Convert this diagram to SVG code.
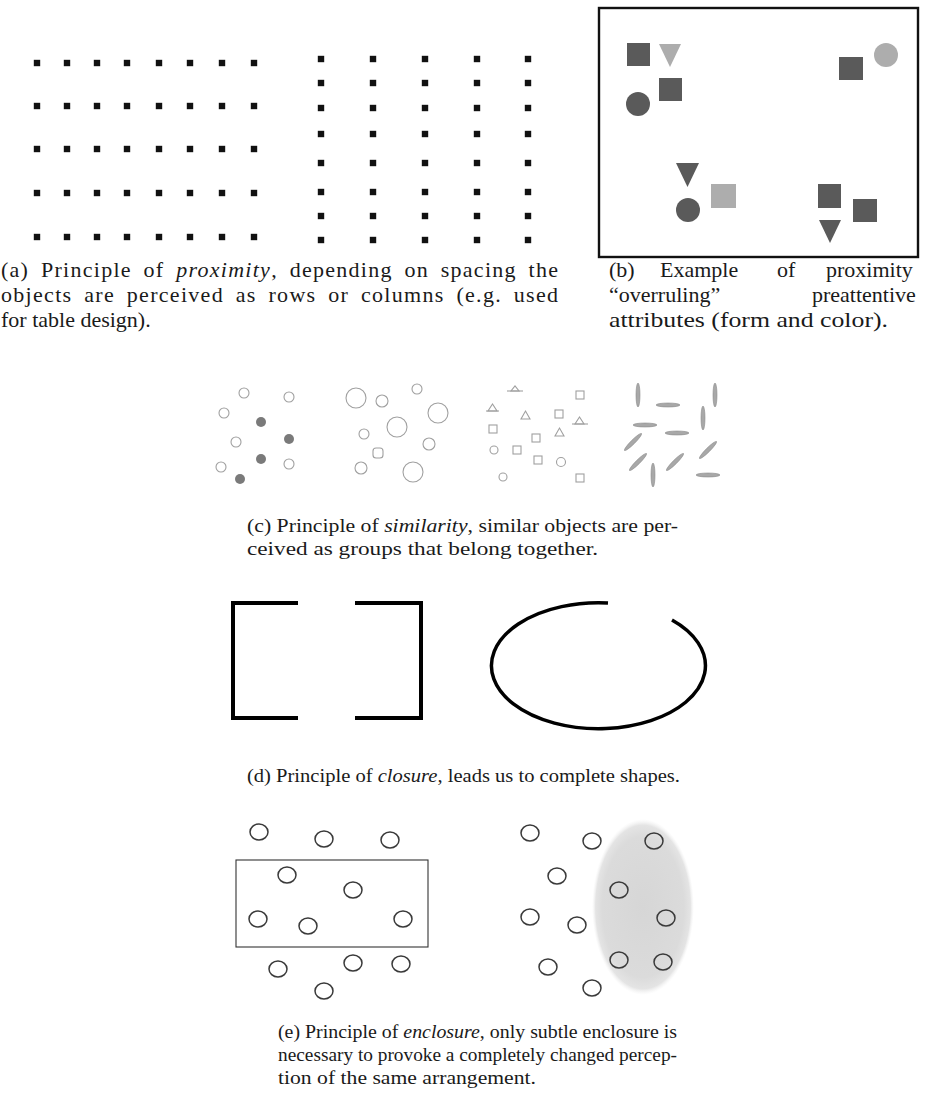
<svg xmlns="http://www.w3.org/2000/svg" width="927" height="1113" viewBox="0 0 927 1113">
<style>
.cap{font-family:"Liberation Serif","Times New Roman",serif;font-size:19px;fill:#1a1a1a}
.capl{font-family:"Liberation Serif","Times New Roman",serif;font-size:22px;fill:#1a1a1a}
.jus{word-spacing:5px}
.it{font-style:italic}
.dot{fill:#111}
.dk{fill:#5a5a5a}
.lt{fill:#adadad}
.oc{fill:none;stroke:#a0a0a0;stroke-width:1.1}
.fc{fill:#7a7a7a}
.el{fill:#a8a8a8;stroke:#8a8a8a;stroke-width:0.6}
.br{fill:none;stroke:#000;stroke-width:4;stroke-linecap:butt}
.ec{fill:none;stroke:#3a3a3a;stroke-width:1.5}
</style>
<defs>
<rect id="d" x="-3.2" y="-3.2" width="6.4" height="6.4" class="dot"/>
<ellipse id="rod" rx="12" ry="2" class="el"/>
<radialGradient id="gg" cx="0.5" cy="0.5" r="0.5">
<stop offset="0" stop-color="#d6d6d6"/>
<stop offset="0.8" stop-color="#dbdbdb"/>
<stop offset="0.93" stop-color="#e4e4e4"/>
<stop offset="1" stop-color="#f2f2f2" stop-opacity="0"/>
</radialGradient>
</defs>
<rect width="927" height="1113" fill="#fff"/>

<g id="panel-a-rows">
<g id="ra1" transform="translate(0,63)"><use href="#d" x="37"/><use href="#d" x="67"/><use href="#d" x="97"/><use href="#d" x="127"/><use href="#d" x="159"/><use href="#d" x="190"/><use href="#d" x="222"/><use href="#d" x="254"/></g>
<g id="ra2" transform="translate(0,106)"><use href="#d" x="37"/><use href="#d" x="67"/><use href="#d" x="97"/><use href="#d" x="127"/><use href="#d" x="159"/><use href="#d" x="190"/><use href="#d" x="222"/><use href="#d" x="254"/></g>
<g id="ra3" transform="translate(0,149)"><use href="#d" x="37"/><use href="#d" x="67"/><use href="#d" x="97"/><use href="#d" x="127"/><use href="#d" x="159"/><use href="#d" x="190"/><use href="#d" x="222"/><use href="#d" x="254"/></g>
<g id="ra4" transform="translate(0,193)"><use href="#d" x="37"/><use href="#d" x="67"/><use href="#d" x="97"/><use href="#d" x="127"/><use href="#d" x="159"/><use href="#d" x="190"/><use href="#d" x="222"/><use href="#d" x="254"/></g>
<g id="ra5" transform="translate(0,237)"><use href="#d" x="37"/><use href="#d" x="67"/><use href="#d" x="97"/><use href="#d" x="127"/><use href="#d" x="159"/><use href="#d" x="190"/><use href="#d" x="222"/><use href="#d" x="254"/></g>
</g>
<g id="panel-a-cols">
<g id="ca1" transform="translate(321,0)"><use href="#d" y="59"/><use href="#d" y="83"/><use href="#d" y="108"/><use href="#d" y="134"/><use href="#d" y="163"/><use href="#d" y="192"/><use href="#d" y="216"/><use href="#d" y="240"/></g>
<g id="ca2" transform="translate(373,0)"><use href="#d" y="59"/><use href="#d" y="83"/><use href="#d" y="108"/><use href="#d" y="134"/><use href="#d" y="163"/><use href="#d" y="192"/><use href="#d" y="216"/><use href="#d" y="240"/></g>
<g id="ca3" transform="translate(425,0)"><use href="#d" y="59"/><use href="#d" y="83"/><use href="#d" y="108"/><use href="#d" y="134"/><use href="#d" y="163"/><use href="#d" y="192"/><use href="#d" y="216"/><use href="#d" y="240"/></g>
<g id="ca4" transform="translate(477,0)"><use href="#d" y="59"/><use href="#d" y="83"/><use href="#d" y="108"/><use href="#d" y="134"/><use href="#d" y="163"/><use href="#d" y="192"/><use href="#d" y="216"/><use href="#d" y="240"/></g>
<g id="ca5" transform="translate(528,0)"><use href="#d" y="59"/><use href="#d" y="83"/><use href="#d" y="108"/><use href="#d" y="134"/><use href="#d" y="163"/><use href="#d" y="192"/><use href="#d" y="216"/><use href="#d" y="240"/></g>
</g>

<g id="panel-b">
<rect x="599" y="8" width="319" height="249" fill="none" stroke="#111" stroke-width="2.4"/>
<g id="b-group1">
<rect x="627" y="43" width="23" height="23" class="dk"/>
<polygon points="659,44 681,44 670,67" class="lt"/>
<rect x="659" y="78" width="23" height="23" class="dk"/>
<circle cx="638" cy="104" r="12" class="dk"/>
</g>
<g id="b-group2">
<rect x="839" y="57" width="24" height="23" class="dk"/>
<circle cx="886" cy="55" r="12" class="lt"/>
</g>
<g id="b-group3">
<polygon points="676,163 699,163 687.5,187" class="dk"/>
<circle cx="688" cy="210" r="12" class="dk"/>
<rect x="711" y="184" width="25" height="24" class="lt"/>
</g>
<g id="b-group4">
<rect x="818" y="184" width="23" height="24" class="dk"/>
<rect x="853" y="199" width="24" height="23" class="dk"/>
<polygon points="819,220 841,220 830,243" class="dk"/>
</g>
</g>

<g id="panel-c1">
<circle cx="244" cy="393" r="5" class="oc"/>
<circle cx="289" cy="397" r="5" class="oc"/>
<circle cx="224" cy="413" r="5" class="oc"/>
<circle cx="261" cy="422" r="5" class="fc"/>
<circle cx="289" cy="439" r="5" class="fc"/>
<circle cx="236" cy="442" r="5" class="oc"/>
<circle cx="261" cy="459" r="5" class="fc"/>
<circle cx="221" cy="467" r="5" class="oc"/>
<circle cx="289" cy="464" r="5" class="oc"/>
<circle cx="240" cy="479" r="5" class="fc"/>
</g>
<g id="panel-c2">
<circle cx="356" cy="398" r="10" class="oc"/>
<circle cx="382" cy="401" r="6" class="oc"/>
<circle cx="417" cy="389" r="5" class="oc"/>
<circle cx="438" cy="413" r="10" class="oc"/>
<circle cx="397" cy="427" r="10" class="oc"/>
<circle cx="364" cy="434" r="5" class="oc"/>
<circle cx="429" cy="444" r="6" class="oc"/>
<rect x="373" y="448" width="10" height="10" rx="3" class="oc"/>
<circle cx="361" cy="468" r="6" class="oc"/>
<circle cx="413" cy="472" r="10" class="oc"/>
</g>
<g id="panel-c3">
<polygon points="511,391 519,391 515,386" class="oc"/><line x1="507" y1="391" x2="523" y2="391" class="oc"/>
<rect x="576" y="391" width="8" height="8" class="oc"/>
<polygon points="488,411 497,411 492.5,404" class="oc"/><line x1="486" y1="411" x2="499" y2="411" class="oc"/>
<polygon points="521,419 530,419 525.5,411" class="oc"/>
<rect x="555" y="410" width="8" height="8" class="oc"/>
<polygon points="575,424 584,424 579.5,417" class="oc"/><line x1="572" y1="424" x2="588" y2="424" class="oc"/>
<rect x="489" y="425" width="8" height="8" class="oc"/>
<polygon points="555,436 564,436 559.5,428" class="oc"/>
<rect x="532" y="434" width="8" height="8" class="oc"/>
<circle cx="494" cy="450" r="4" class="oc"/>
<rect x="513" y="446" width="8" height="8" class="oc"/>
<rect x="534" y="456" width="8" height="8" class="oc"/>
<circle cx="561" cy="462" r="4.5" class="oc"/>
<circle cx="503" cy="477" r="4" class="oc"/>
<rect x="576" y="474" width="8" height="8" class="oc"/>
</g>
<g id="panel-c4">
<use href="#rod" transform="translate(638,395) rotate(90)"/>
<use href="#rod" transform="translate(715,395) rotate(90)"/>
<use href="#rod" transform="translate(668,405)"/>
<use href="#rod" transform="translate(703,418) rotate(90)"/>
<use href="#rod" transform="translate(645,425)"/>
<use href="#rod" transform="translate(677,433)"/>
<use href="#rod" transform="translate(633,442) rotate(-45)"/>
<use href="#rod" transform="translate(708,450) rotate(-45)"/>
<use href="#rod" transform="translate(638,462) rotate(-45)"/>
<use href="#rod" transform="translate(675,462) rotate(-45)"/>
<use href="#rod" transform="translate(653,475) rotate(90)"/>
<use href="#rod" transform="translate(708,475)"/>
</g>

<g id="panel-d">
<polyline points="298,603 233,603 233,718 298,718" class="br"/>
<polyline points="355,603 421,603 421,718 355,718" class="br"/>
<path d="M672,620 A107,63 0 1 1 608,603" fill="none" stroke="#000" stroke-width="3.5"/>
</g>

<g id="panel-e1">
<rect x="236" y="860" width="192" height="87" fill="none" stroke="#333" stroke-width="1.1"/>
<ellipse cx="259" cy="832" rx="9" ry="8" class="ec"/>
<ellipse cx="324" cy="839" rx="9" ry="8" class="ec"/>
<ellipse cx="390" cy="840" rx="9" ry="8" class="ec"/>
<ellipse cx="287" cy="875" rx="9" ry="8" class="ec"/>
<ellipse cx="353" cy="890" rx="9" ry="8" class="ec"/>
<ellipse cx="258" cy="919" rx="9" ry="8" class="ec"/>
<ellipse cx="308" cy="926" rx="9" ry="8" class="ec"/>
<ellipse cx="403" cy="919" rx="9" ry="8" class="ec"/>
<ellipse cx="278" cy="969" rx="9" ry="8" class="ec"/>
<ellipse cx="353" cy="963" rx="9" ry="8" class="ec"/>
<ellipse cx="401" cy="964" rx="9" ry="8" class="ec"/>
<ellipse cx="324" cy="991" rx="9" ry="8" class="ec"/>
</g>
<g id="panel-e2">
<ellipse cx="643" cy="907" rx="51" ry="88" fill="url(#gg)"/>
<ellipse cx="530" cy="833" rx="9" ry="8" class="ec"/>
<ellipse cx="592" cy="841" rx="9" ry="8" class="ec"/>
<ellipse cx="654" cy="841" rx="9" ry="8" class="ec"/>
<ellipse cx="557" cy="876" rx="9" ry="8" class="ec"/>
<ellipse cx="619" cy="890" rx="9" ry="8" class="ec"/>
<ellipse cx="530" cy="917" rx="9" ry="8" class="ec"/>
<ellipse cx="577" cy="925" rx="9" ry="8" class="ec"/>
<ellipse cx="666" cy="918" rx="9" ry="8" class="ec"/>
<ellipse cx="548" cy="967" rx="9" ry="8" class="ec"/>
<ellipse cx="619" cy="960" rx="9" ry="8" class="ec"/>
<ellipse cx="663" cy="962" rx="9" ry="8" class="ec"/>
<ellipse cx="592" cy="988" rx="9" ry="8" class="ec"/>
</g>

<g id="captions">
<text class="capl jus" x="1" y="277" textLength="557" lengthAdjust="spacing">(a) Principle of <tspan class="it">proximity</tspan>, depending on spacing the</text>
<text class="capl jus" x="1" y="302" textLength="557" lengthAdjust="spacing">objects are perceived as rows or columns (e.g. used</text>
<text class="capl" x="1" y="327">for table design).</text>
<text class="capl" y="277"><tspan x="609">(b)</tspan><tspan x="660">Example</tspan><tspan x="777">of</tspan><tspan x="826">proximity</tspan></text>
<text class="capl" y="302"><tspan x="609">“overruling”</tspan><tspan x="812">preattentive</tspan></text>
<text class="capl" x="609" y="327" textLength="279" lengthAdjust="spacingAndGlyphs">attributes (form and color).</text>
<text class="cap" x="247" y="532" textLength="431" lengthAdjust="spacingAndGlyphs">(c) Principle of <tspan class="it">similarity</tspan>, similar objects are per-</text>
<text class="cap" x="247" y="555" textLength="351" lengthAdjust="spacingAndGlyphs">ceived as groups that belong together.</text>
<text class="cap" x="247" y="782" textLength="433" lengthAdjust="spacingAndGlyphs">(d) Principle of <tspan class="it">closure</tspan>, leads us to complete shapes.</text>
<text class="cap" x="278" y="1038" textLength="399" lengthAdjust="spacingAndGlyphs">(e) Principle of <tspan class="it">enclosure</tspan>, only subtle enclosure is</text>
<text class="cap" x="278" y="1061" textLength="399" lengthAdjust="spacingAndGlyphs">necessary to provoke a completely changed percep-</text>
<text class="cap" x="278" y="1084" textLength="258" lengthAdjust="spacingAndGlyphs">tion of the same arrangement.</text>
</g>
</svg>
